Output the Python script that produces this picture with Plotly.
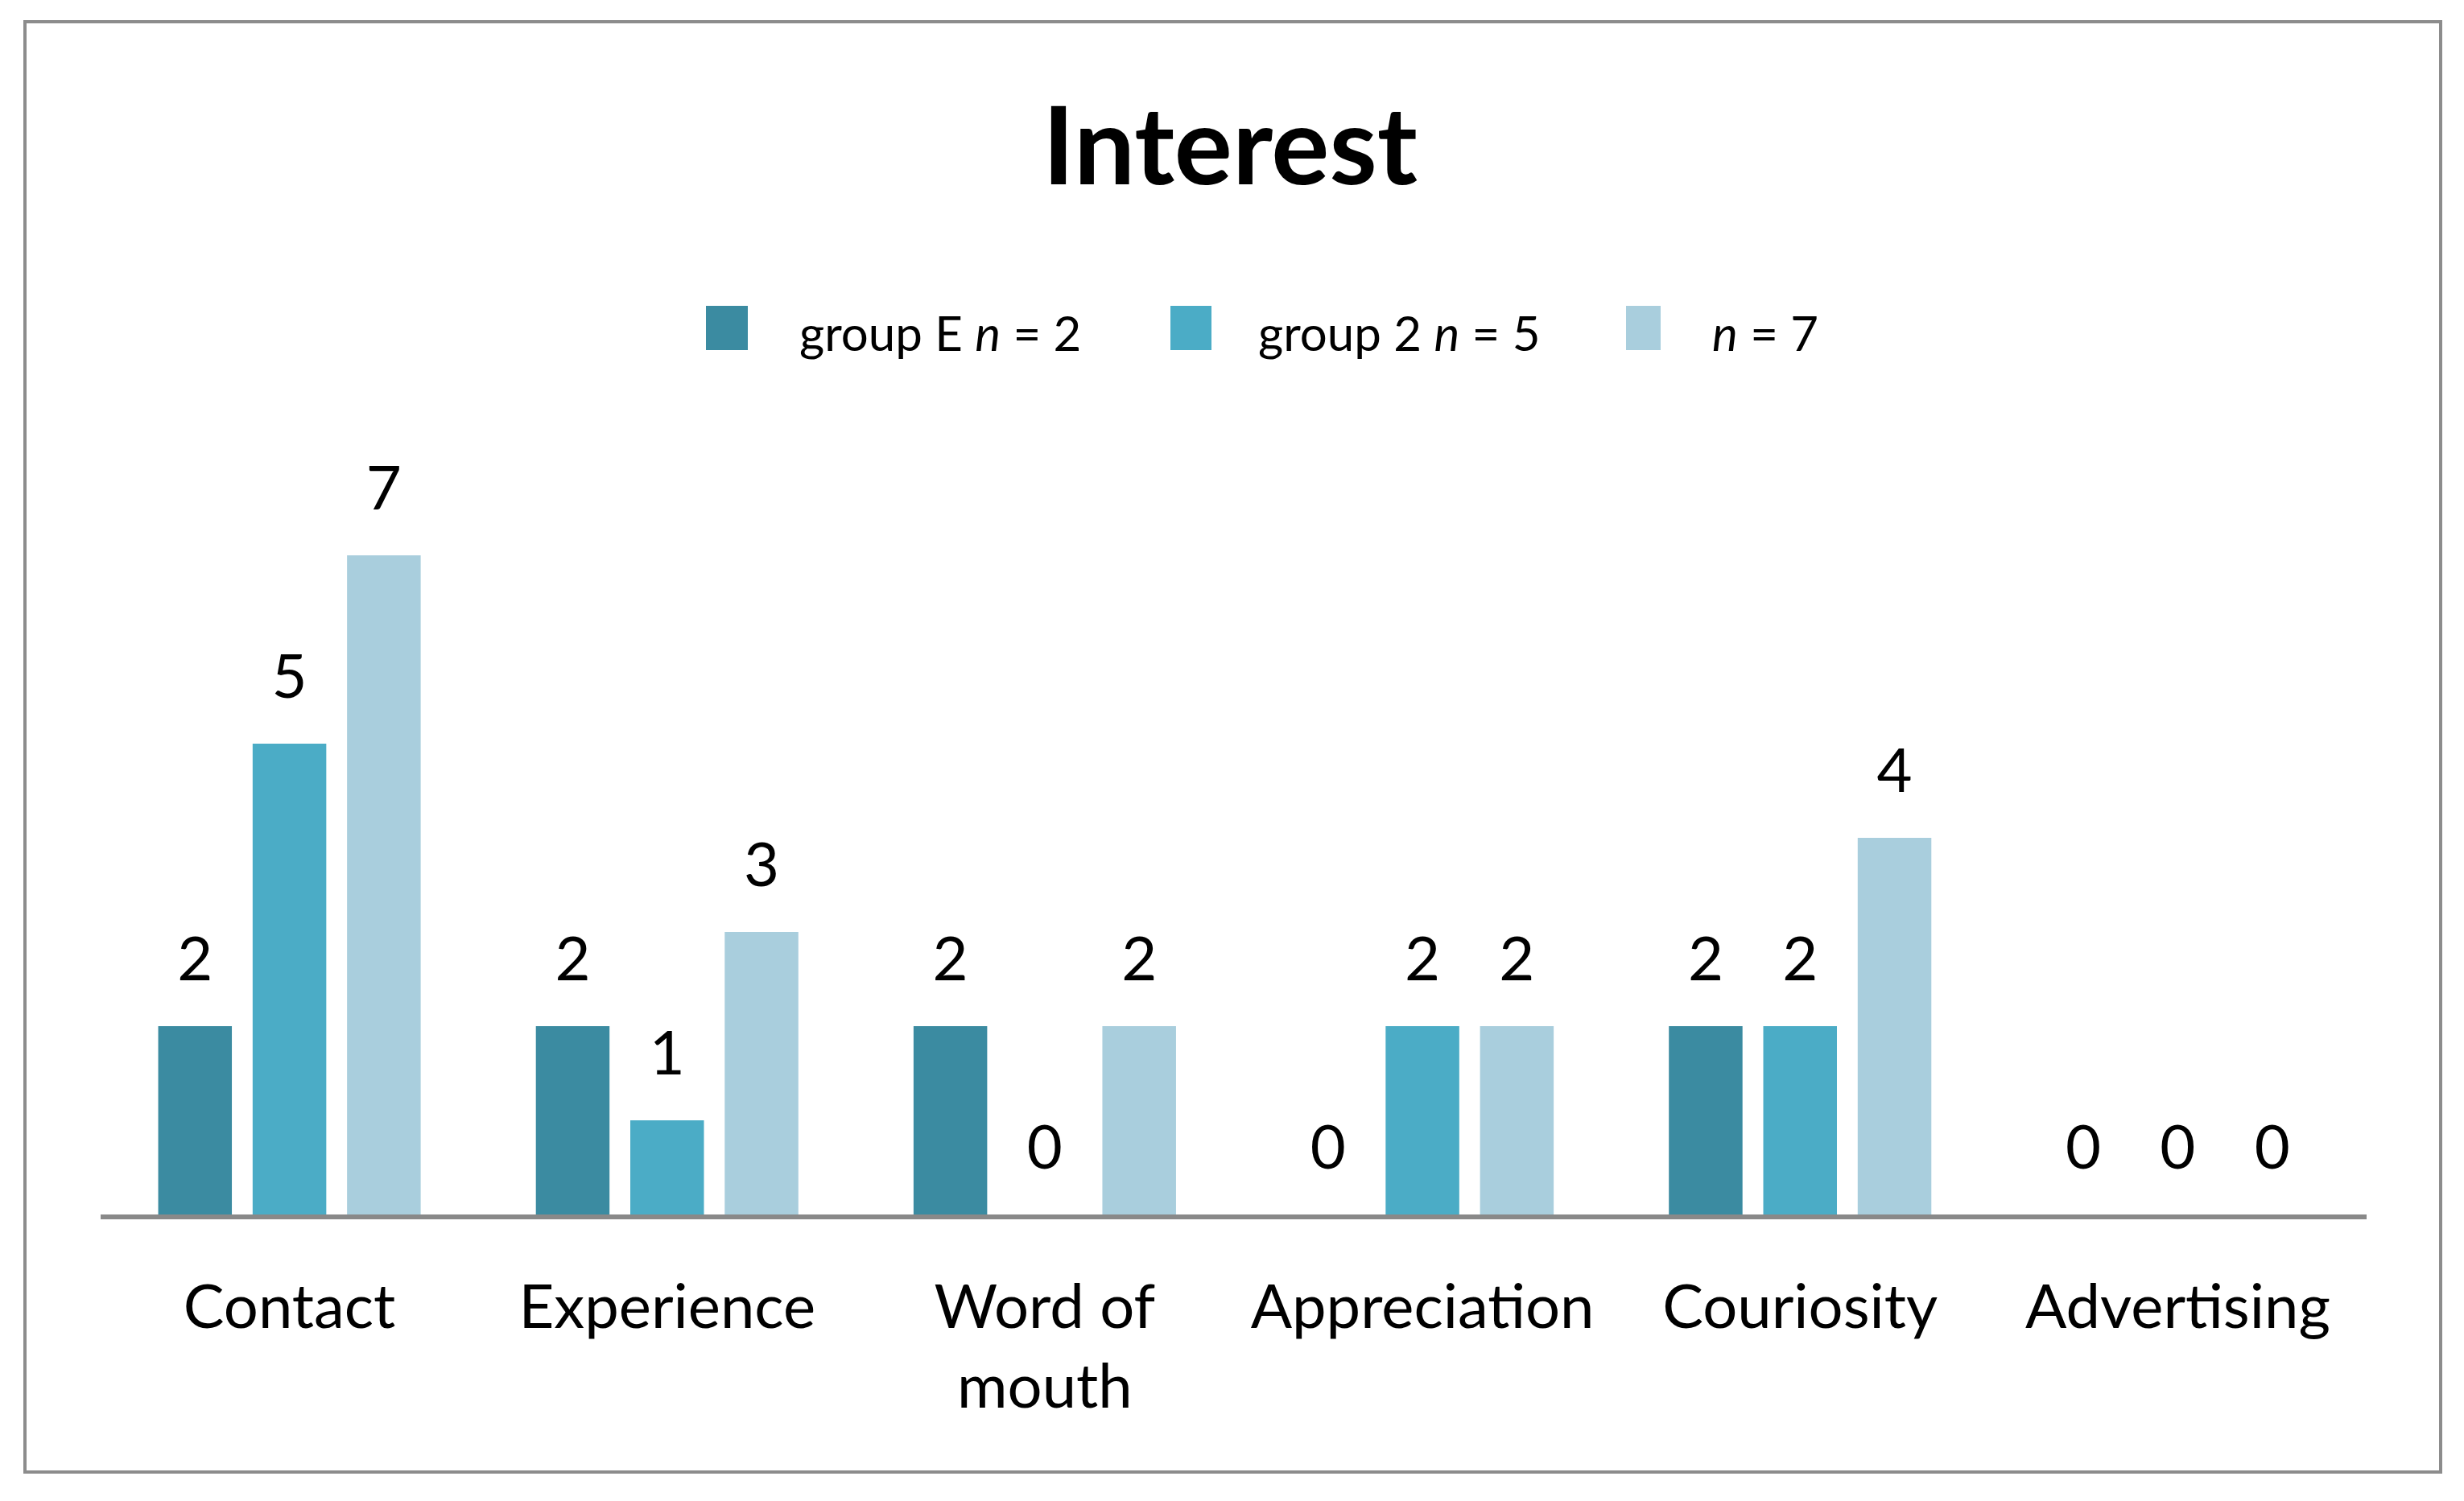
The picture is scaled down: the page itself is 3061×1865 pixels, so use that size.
import plotly.graph_objects as go

categories = ["Contact", "Experience", "Word of<br>mouth", "Appreciation", "Couriosity", "Advertising"]
group_e = [2, 2, 2, 0, 2, 0]
group_2 = [5, 1, 0, 2, 2, 0]
total = [7, 3, 2, 2, 4, 0]

series_names = ["group E <i>n</i> = 2", "group 2 <i>n</i> = 5", "<i>n</i> = 7"]
series_values = [group_e, group_2, total]
colors = ["#3B8BA1", "#4BACC6", "#A9CEDD"]

OFF = 8  # default page margin of the html body
W, H = 3061 - 2 * OFF, 1865 - 2 * OFF
FONT = "Lato, Carlito, 'Open Sans', sans-serif"

fig = go.Figure()
for name, vals, col in zip(series_names, series_values, colors):
    fig.add_trace(go.Bar(
        x=categories, y=vals, name=name,
        marker=dict(color=col, line=dict(width=0)),
        showlegend=False, hoverinfo="skip",
    ))
for name, vals in zip(series_names, series_values):
    fig.add_trace(go.Scatter(
        x=categories, y=vals, mode="markers+text",
        text=[str(v) for v in vals], textposition="top center",
        textfont=dict(family=FONT, size=76, color="#000000"),
        marker=dict(size=60, opacity=0),
        showlegend=False, hoverinfo="skip",
    ))

def px_x(x):
    return (x - OFF) / W

def px_y(y):
    return 1 - (y - OFF) / H

shapes = [
    dict(type="rect", xref="paper", yref="paper",
         x0=px_x(31), x1=px_x(3032), y0=px_y(1829), y1=px_y(27),
         line=dict(color="#8C8C8C", width=4), fillcolor="rgba(0,0,0,0)", layer="below"),
]
annotations = []
leg_rects = [(877, 929), (1454, 1505), (2020, 2063)]
leg_text_x = [991, 1561, 2125]
for (x0, x1), tx, name, col in zip(leg_rects, leg_text_x, series_names, colors):
    shapes.append(dict(type="rect", xref="paper", yref="paper",
                       x0=px_x(x0), x1=px_x(x1), y0=px_y(435), y1=px_y(380),
                       line=dict(width=0), fillcolor=col))
    annotations.append(dict(xref="paper", yref="paper", x=px_x(tx), y=px_y(413),
                            xanchor="left", yanchor="middle", showarrow=False,
                            text=name, font=dict(family=FONT, size=60, color="#000000")))

fig.update_layout(
    width=W, height=H,
    margin=dict(l=0, r=0, t=0, b=0),
    paper_bgcolor="white", plot_bgcolor="white",
    barmode="group", bargap=0.25, bargroupgap=0.22,
    scattermode="group", scattergap=0.25,
    title=dict(text="Interest", x=px_x(1528), y=px_y(182), xanchor="center", yanchor="middle",
               font=dict(family=FONT, size=135, color="#000000", weight=700)),
    xaxis=dict(domain=[px_x(125), px_x(2940)], showline=True, linecolor="#898989", linewidth=6,
               ticks="", showgrid=False, zeroline=False, ticklabelstandoff=44,
               tickfont=dict(family=FONT, size=76, color="#000000"),
               range=[-0.5, 5.5]),
    yaxis=dict(domain=[px_y(1509), px_y(573)], range=[0, 8], visible=False,
               showgrid=False, zeroline=False),
    shapes=shapes, annotations=annotations,
)

fig.write_html("out.html")
